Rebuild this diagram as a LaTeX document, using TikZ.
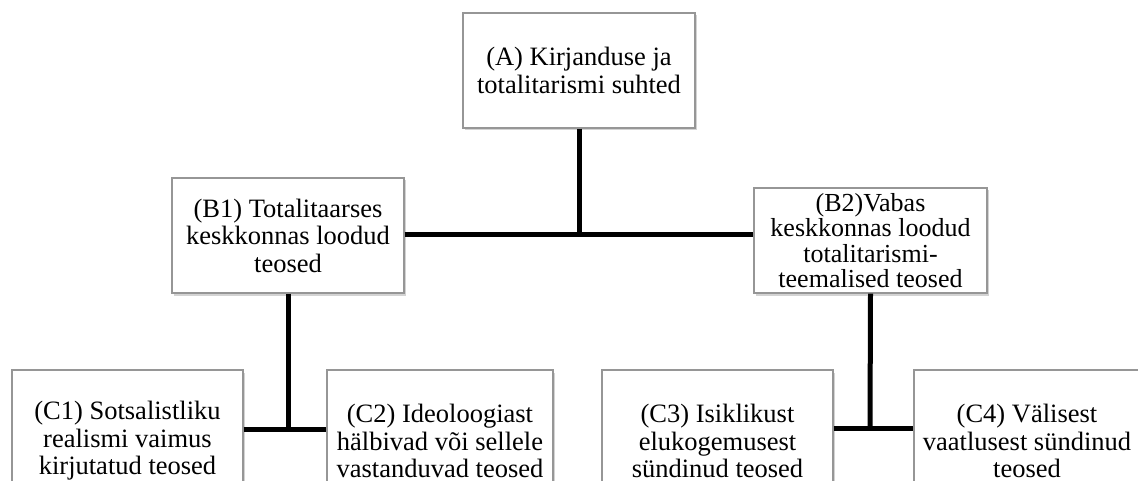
\documentclass[tikz,border=0pt]{standalone}
\usepackage{fontspec}
\setmainfont{Liberation Serif}
\usetikzlibrary{shadows}
\definecolor{boxborder}{RGB}{150,150,150}
\tikzset{
  box/.style={draw=boxborder, line width=1.3pt, fill=white, align=center,
    inner sep=0pt, font=\fontsize{26.5}{27.5}\selectfont,
    drop shadow={shadow xshift=1.5pt, shadow yshift=-2.5pt, opacity=0.35, fill=gray}},
  link/.style={line width=5pt, black}
}
\begin{document}
\begin{tikzpicture}[x=1pt,y=1pt]
\useasboundingbox (0,0) rectangle (1138,-481);
\node[box, minimum width=232pt, minimum height=115pt] (A) at (579,-70.5)
  {(A) Kirjanduse ja\\totalitarismi suhted};
\node[box, minimum width=232pt, minimum height=115pt] (B1) at (288,-235.5)
  {(B1) Totalitaarses\\keskkonnas loodud\\teosed};
\node[box, minimum width=233pt, minimum height=105pt,
  font=\fontsize{26}{25.5}\selectfont] (B2) at (870.5,-240.5)
  {(B2)Vabas\\keskkonnas loodud\\totalitarismi-\\teemalised teosed};
\node[box, minimum width=231pt, minimum height=142pt] (C1) at (127.5,-441)
  {(C1) Sotsalistliku\\realismi vaimus\\kirjutatud teosed};
\node[box, minimum width=226pt, minimum height=142pt] (C2) at (440,-441)
  {(C2) Ideoloogiast\\hälbivad või sellele\\vastanduvad teosed};
\node[box, minimum width=231pt, minimum height=142pt] (C3) at (717.5,-441)
  {(C3) Isiklikust\\elukogemusest\\sündinud teosed};
\node[box, minimum width=226pt, minimum height=142pt] (C4) at (1027,-441)
  {(C4) Välisest\\vaatlusest sündinud\\teosed};
\coordinate (jA) at (579,-235);
\coordinate (jB1) at (288,-429);
\coordinate (jB2) at (870,-428);
\draw[link] (A.south) -- (jA);
\draw[link] (B1.east |- jA) -- (B2.west |- jA);
\draw[link] (B1.south) -- (jB1);
\draw[link] (C1.east |- jB1) -- (C2.west |- jB1);
\draw[link] (B2.south) -- (jB2);
\draw[link] (C3.east |- jB2) -- (C4.west |- jB2);
\end{tikzpicture}
\end{document}
